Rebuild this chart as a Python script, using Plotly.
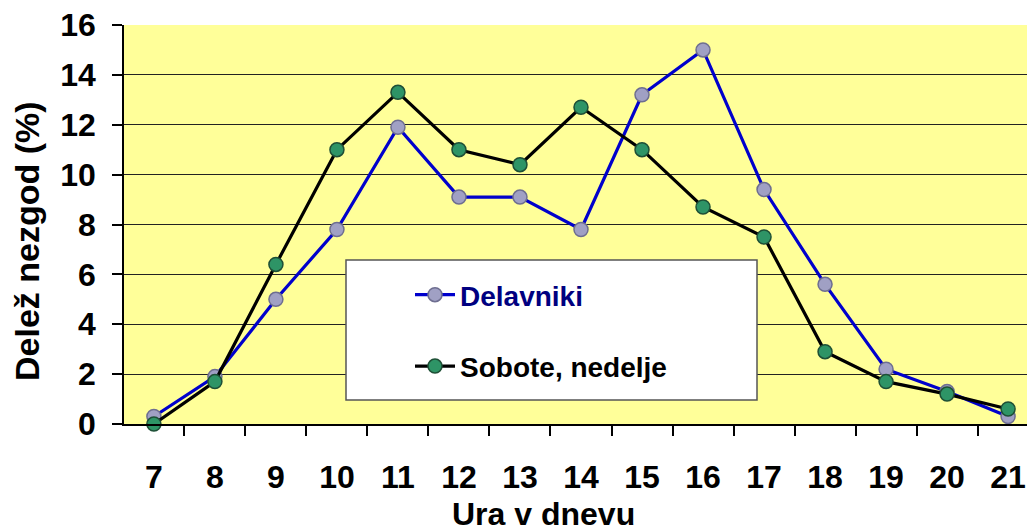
import plotly.graph_objects as go

hours = ["7", "8", "9", "10", "11", "12", "13", "14", "15", "16", "17", "18", "19", "20", "21"]
delavniki = [0.3, 1.9, 5.0, 7.8, 11.9, 9.1, 9.1, 7.8, 13.2, 15.0, 9.4, 5.6, 2.2, 1.3, 0.3]
sobote = [0.0, 1.7, 6.4, 11.0, 13.3, 11.0, 10.4, 12.7, 11.0, 8.7, 7.5, 2.9, 1.7, 1.2, 0.6]
y_ticks = [0, 2, 4, 6, 8, 10, 12, 14, 16]

W, H = 1027, 526
L, R, T, B = 124, 0, 25, 102
pw = W - L - R
ph = H - T - B

def px(x):
    return (x - L) / pw

def py(y):
    return (H - B - y) / ph

FONT = "Liberation Sans, Arial, sans-serif"

fig = go.Figure()
fig.add_trace(go.Scatter(
    x=hours, y=delavniki, mode="lines+markers",
    name="<span style='color:#000080'>Delavniki</span>",
    legendgroup="a",
    line=dict(color="#0000CC", width=3.2),
    marker=dict(size=14, color="#A0A0C4", line=dict(color="#6E6E90", width=1.5)),
    cliponaxis=False,
))
fig.add_trace(go.Scatter(
    x=hours, y=sobote, mode="lines+markers",
    name="Sobote, nedelje",
    legendgroup="b",
    line=dict(color="#000000", width=3.2),
    marker=dict(size=14, color="#2E9466", line=dict(color="#1E4F36", width=1.5)),
    cliponaxis=False,
))

fig.update_layout(
    width=W, height=H,
    margin=dict(l=L, r=R, t=T, b=B, pad=0),
    paper_bgcolor="white",
    plot_bgcolor="#FFFF99",
    font=dict(family=FONT, color="black", size=30),
    showlegend=True,
    legend=dict(
        x=px(410), y=py(270), xanchor="left", yanchor="top",
        bgcolor="rgba(0,0,0,0)", borderwidth=0,
        font=dict(family=FONT, size=28, color="black", weight="bold"),
        traceorder="grouped", tracegroupgap=32,
        itemwidth=40,
    ),
    shapes=[dict(
        type="rect", xref="paper", yref="paper",
        x0=px(346), x1=px(757), y0=py(400), y1=py(260),
        fillcolor="white", line=dict(color="#555555", width=1.5), layer="above",
    )],
    annotations=[
        dict(text="<b>Ura v dnevu</b>", xref="paper", yref="paper",
             x=px(543), y=py(494), xanchor="center", yanchor="top",
             showarrow=False, font=dict(family=FONT, size=32, color="black")),
        dict(text="<b>Delež nezgod (%)</b>", xref="paper", yref="paper",
             x=px(27), y=py(241), xanchor="center", yanchor="middle",
             textangle=-90,
             showarrow=False, font=dict(family=FONT, size=34, color="black")),
    ],
)

fig.update_xaxes(
    type="category", range=[-0.49, 14.31], automargin=False,
    showline=True, linecolor="black", linewidth=1.5,
    ticks="outside", ticklen=10, tickcolor="black", tickwidth=1.5,
    tickson="boundaries", showgrid=False, zeroline=False,
    tickfont=dict(family=FONT, size=32, color="black", weight="bold"),
    ticklabelstandoff=24,
)
fig.update_yaxes(
    range=[0, 16], tickvals=y_ticks, automargin=False,
    showline=True, linecolor="black", linewidth=1.5,
    ticks="outside", ticklen=10, tickcolor="black", tickwidth=1.5,
    showgrid=True, gridcolor="#222222", gridwidth=1.2, zeroline=False,
    tickfont=dict(family=FONT, size=32, color="black", weight="bold"),
    ticklabelstandoff=10,
)

fig.write_html(
    "out.html",
    config={"displayModeBar": False},
    post_script="document.body.style.margin='0';document.body.style.overflow='hidden';",
)
